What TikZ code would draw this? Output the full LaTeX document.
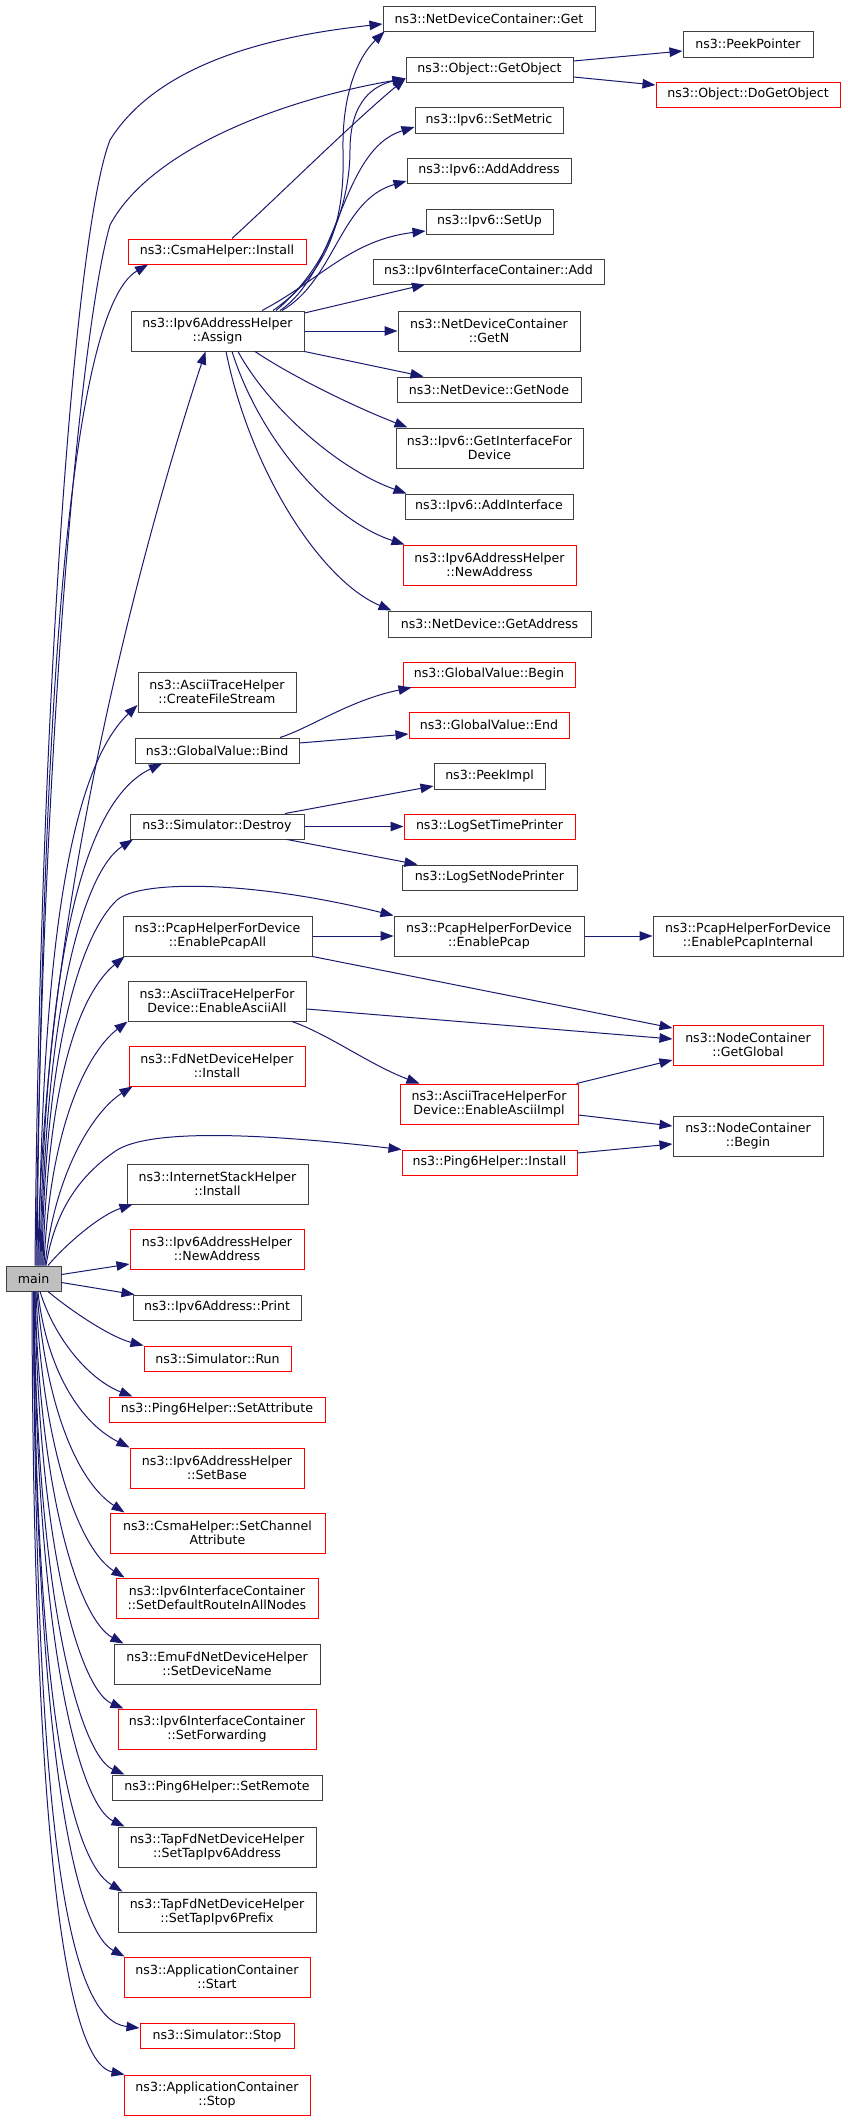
\documentclass[tikz,border=0pt]{standalone}
\usepackage{fontspec}
\setmainfont{DejaVu Sans}
\usetikzlibrary{arrows.meta}
\definecolor{edgec}{HTML}{191970}
\definecolor{boxc}{HTML}{404040}
\definecolor{redc}{HTML}{FF0000}
\definecolor{mainfill}{HTML}{BFBFBF}
\tikzset{
  fn/.style={draw=boxc, line width=1pt, rectangle, inner sep=0pt, align=center, fill=white,
    font=\fontsize{12.6}{14}\selectfont},
  rfn/.style={fn, draw=redc},
  mfn/.style={fn, fill=mainfill},
  call/.style={draw=edgec, line width=1pt, -{Triangle[length=13pt,width=9.5pt]}},
}
\begin{document}
\begin{tikzpicture}[x=1pt,y=-1pt]
\useasboundingbox (0,0) rectangle (848,2120);
% ---------- nodes ----------
\node[fn, minimum width=212pt, minimum height=25pt] (getN) at (489,18.5) {ns3::NetDeviceContainer::Get};
\node[fn, minimum width=167pt, minimum height=25pt] (getObj) at (489.5,69.5) {ns3::Object::GetObject};
\node[fn, minimum width=130pt, minimum height=26pt] (peekPtr) at (748,44) {ns3::PeekPointer};
\node[rfn, minimum width=184pt, minimum height=25pt] (doGet) at (748,94.5) {ns3::Object::DoGetObject};
\node[fn, minimum width=148pt, minimum height=26pt] (setMetric) at (489,120) {ns3::Ipv6::SetMetric};
\node[fn, minimum width=164pt, minimum height=25pt] (addAddr) at (489,170.5) {ns3::Ipv6::AddAddress};
\node[fn, minimum width=127pt, minimum height=25pt] (setUp) at (489.5,221.5) {ns3::Ipv6::SetUp};
\node[fn, minimum width=231pt, minimum height=25pt] (ifcAdd) at (488.5,271.5) {ns3::Ipv6InterfaceContainer::Add};
\node[fn, minimum width=182pt, minimum height=40pt] (getNN) at (489,331) {ns3::NetDeviceContainer\\::GetN};
\node[fn, minimum width=173pt, minimum height=40pt] (assign) at (217.5,331) {ns3::Ipv6AddressHelper\\::Assign};
\node[rfn, minimum width=178pt, minimum height=25pt] (csmaInst) at (217,251.5) {ns3::CsmaHelper::Install};
\node[fn, minimum width=184pt, minimum height=25pt] (getNode) at (489,389.5) {ns3::NetDevice::GetNode};
\node[fn, minimum width=187pt, minimum height=40pt] (getIfc) at (489.5,448) {ns3::Ipv6::GetInterfaceFor\\Device};
\node[fn, minimum width=168pt, minimum height=25pt] (addIfc) at (489,506.5) {ns3::Ipv6::AddInterface};
\node[rfn, minimum width=173pt, minimum height=40pt] (newAddrR) at (489.5,565) {ns3::Ipv6AddressHelper\\::NewAddress};
\node[fn, minimum width=203pt, minimum height=26pt] (getAddr) at (489.5,624) {ns3::NetDevice::GetAddress};
\node[rfn, minimum width=172pt, minimum height=25pt] (gvBegin) at (489,674.5) {ns3::GlobalValue::Begin};
\node[rfn, minimum width=160pt, minimum height=26pt] (gvEnd) at (489,725) {ns3::GlobalValue::End};
\node[fn, minimum width=158pt, minimum height=40pt] (cfs) at (217,692) {ns3::AsciiTraceHelper\\::CreateFileStream};
\node[fn, minimum width=164pt, minimum height=25pt] (bind) at (217,750.5) {ns3::GlobalValue::Bind};
\node[fn, minimum width=174pt, minimum height=25pt] (destroy) at (217,826.5) {ns3::Simulator::Destroy};
\node[fn, minimum width=111pt, minimum height=26pt] (peekImpl) at (489.5,776) {ns3::PeekImpl};
\node[rfn, minimum width=171pt, minimum height=25pt] (timePr) at (489.5,826.5) {ns3::LogSetTimePrinter};
\node[fn, minimum width=175pt, minimum height=25pt] (nodePr) at (489.5,877.5) {ns3::LogSetNodePrinter};
\node[fn, minimum width=189pt, minimum height=40pt] (pcapAll) at (217.5,936) {ns3::PcapHelperForDevice\\::EnablePcapAll};
\node[fn, minimum width=190pt, minimum height=40pt] (pcap) at (489,936) {ns3::PcapHelperForDevice\\::EnablePcap};
\node[fn, minimum width=190pt, minimum height=40pt] (pcapInt) at (748,936) {ns3::PcapHelperForDevice\\::EnablePcapInternal};
\node[fn, minimum width=178pt, minimum height=40pt] (asciiAll) at (217,1001) {ns3::AsciiTraceHelperFor\\Device::EnableAsciiAll};
\node[rfn, minimum width=150pt, minimum height=40pt] (getGlobal) at (748,1045) {ns3::NodeContainer\\::GetGlobal};
\node[rfn, minimum width=176pt, minimum height=40pt] (fdInst) at (217,1066) {ns3::FdNetDeviceHelper\\::Install};
\node[rfn, minimum width=178pt, minimum height=40pt] (asciiImpl) at (489,1104) {ns3::AsciiTraceHelperFor\\Device::EnableAsciiImpl};
\node[rfn, minimum width=175pt, minimum height=25pt] (pingInst) at (489.5,1162.5) {ns3::Ping6Helper::Install};
\node[fn, minimum width=150pt, minimum height=40pt] (ncBegin) at (748,1136) {ns3::NodeContainer\\::Begin};
\node[fn, minimum width=181pt, minimum height=40pt] (inet) at (217.5,1184) {ns3::InternetStackHelper\\::Install};
\node[rfn, minimum width=174pt, minimum height=40pt] (newAddrL) at (217,1249) {ns3::Ipv6AddressHelper\\::NewAddress};
\node[mfn, minimum width=55pt, minimum height=25pt] (main) at (33.5,1278.5) {main};
\node[fn, minimum width=168pt, minimum height=25pt] (print) at (217,1307.5) {ns3::Ipv6Address::Print};
\node[rfn, minimum width=147pt, minimum height=25pt] (run) at (217.5,1358.5) {ns3::Simulator::Run};
\node[rfn, minimum width=216pt, minimum height=25pt] (setAttr) at (217,1409.5) {ns3::Ping6Helper::SetAttribute};
\node[rfn, minimum width=174pt, minimum height=40pt] (setBase) at (217,1468) {ns3::Ipv6AddressHelper\\::SetBase};
\node[rfn, minimum width=215pt, minimum height=40pt] (chanAttr) at (217.5,1533) {ns3::CsmaHelper::SetChannel\\Attribute};
\node[rfn, minimum width=202pt, minimum height=40pt] (defRoute) at (217,1598) {ns3::Ipv6InterfaceContainer\\::SetDefaultRouteInAllNodes};
\node[fn, minimum width=206pt, minimum height=40pt] (devName) at (217,1664) {ns3::EmuFdNetDeviceHelper\\::SetDeviceName};
\node[rfn, minimum width=198pt, minimum height=40pt] (fwd) at (217,1729) {ns3::Ipv6InterfaceContainer\\::SetForwarding};
\node[fn, minimum width=210pt, minimum height=25pt] (remote) at (217,1787.5) {ns3::Ping6Helper::SetRemote};
\node[fn, minimum width=198pt, minimum height=40pt] (tapAddr) at (217,1847) {ns3::TapFdNetDeviceHelper\\::SetTapIpv6Address};
\node[fn, minimum width=198pt, minimum height=40pt] (tapPrefix) at (217,1912) {ns3::TapFdNetDeviceHelper\\::SetTapIpv6Prefix};
\node[rfn, minimum width=186pt, minimum height=40pt] (appStart) at (217,1977) {ns3::ApplicationContainer\\::Start};
\node[rfn, minimum width=154pt, minimum height=25pt] (simStop) at (217,2035.5) {ns3::Simulator::Stop};
\node[rfn, minimum width=186pt, minimum height=40pt] (appStop) at (217,2095) {ns3::ApplicationContainer\\::Stop};
% ---------- edges from main ----------
\draw[call] ([xshift=1.5pt]main.north) .. controls (40,700) and (75,230) .. (110,140) .. controls (160,60) and (280,35) .. ([yshift=-5.5pt]getN.west);
\draw[call] ([xshift=2.5pt]main.north) .. controls (42,750) and (80,330) .. (110,225) .. controls (150,150) and (280,100) .. ([yshift=-9pt]getObj.west);
\draw[call] ([xshift=3.5pt]main.north) .. controls (42,700) and (70,310) .. ([xshift=-69pt]csmaInst.south);
\draw[call] ([xshift=4.5pt]main.north) .. controls (42,900) and (150,520) .. ([xshift=-12pt]assign.south);
\draw[call] ([xshift=5.5pt]main.north) .. controls (42,900) and (80,760) .. ([yshift=-13pt]cfs.west);
\draw[call] ([xshift=6.5pt]main.north) .. controls (45,950) and (85,800) .. ([xshift=-55pt]bind.south);
\draw[call] ([xshift=7.5pt]main.north) .. controls (45,1000) and (85,870) .. ([xshift=-84pt]destroy.south);
\draw[call] ([xshift=8.5pt]main.north) .. controls (45,1050) and (80,935) .. (117,900) .. controls (140,880) and (250,880) .. (pcap.north west);
\draw[call] ([xshift=9.5pt]main.north) .. controls (48,1050) and (90,985) .. ([xshift=2pt]pcapAll.south west);
\draw[call] ([xshift=10.5pt]main.north) .. controls (50,1120) and (90,1050) .. (asciiAll.south west);
\draw[call] ([xshift=11.5pt]main.north) .. controls (55,1170) and (95,1110) .. ([xshift=4pt]fdInst.south west);
\draw[call] ([xshift=12.5pt]main.north) .. controls (55,1210) and (80,1175) .. (117,1150) .. controls (150,1130) and (250,1132) .. (pingInst.north west);
\draw[call] ([xshift=14.5pt]main.north) .. controls (65,1245) and (100,1215) .. ([xshift=6pt]inet.south west);
\draw[call] ([yshift=4pt]main.east) -- ([yshift=-15pt]newAddrL.west);
\draw[call] ([yshift=-4pt]main.east) -- ([xshift=2pt]print.north west);
\draw[call] ([xshift=14.5pt]main.south) .. controls (70,1310) and (110,1337) .. (run.north west);
\draw[call] ([xshift=6.5pt]main.south) .. controls (55,1340) and (90,1380) .. ([xshift=24pt]setAttr.north west);
\draw[call] ([xshift=4.5pt]main.south) .. controls (45,1360) and (75,1420) .. (setBase.north west);
\draw[call] ([xshift=3.5pt]main.south) .. controls (45,1400) and (75,1480) .. ([xshift=15pt]chanAttr.north west);
\draw[call] ([xshift=2.5pt]main.south) .. controls (42,1450) and (80,1550) .. ([xshift=9pt]defRoute.north west);
\draw[call] ([xshift=1.5pt]main.south) .. controls (40,1500) and (80,1620) .. ([xshift=10pt]devName.north west);
\draw[call] ([xshift=1.5pt]main.south) .. controls (38,1550) and (80,1690) .. ([xshift=6pt]fwd.north west);
\draw[call] ([xshift=0.5pt]main.south) .. controls (36,1600) and (80,1755) .. ([xshift=13pt]remote.north west);
\draw[call] ([xshift=0.5pt]main.south) .. controls (36,1650) and (80,1805) .. ([xshift=7pt]tapAddr.north west);
\draw[call] (main.south) .. controls (35,1700) and (70,1860) .. ([xshift=5pt]tapPrefix.north west);
\draw[call] (main.south) .. controls (35,1750) and (75,1930) .. ([xshift=1pt]appStart.north west);
\draw[call] (main.south) .. controls (35,1850) and (70,2020) .. ([yshift=7.5pt]simStop.west);
\draw[call] ([xshift=-1.5pt]main.south) .. controls (33,1950) and (80,2065) .. ([xshift=1pt]appStop.north west);
% ---------- edges from Assign ----------
\draw[call] ([xshift=55.5pt]assign.north) .. controls (330,270) and (345,220) .. (343,150) .. controls (342,90) and (360,55) .. ([xshift=2pt]getN.south west);
\draw[call] ([xshift=58.5pt]assign.north) .. controls (330,265) and (350,200) .. (350,150) .. controls (350,100) and (375,85) .. ([yshift=-9pt]getObj.west);
\draw[call] ([xshift=62.5pt]assign.north) .. controls (340,270) and (340,150) .. ([yshift=-7pt]setMetric.west);
\draw[call] ([xshift=64.5pt]assign.north) .. controls (335,280) and (340,200) .. ([yshift=-10.5pt]addAddr.west);
\draw[call] ([xshift=44.5pt]assign.north) .. controls (320,280) and (350,240) .. ([yshift=-9.5pt]setUp.west);
\draw[call] ([yshift=18pt]assign.east) -- ([xshift=-63.5pt]ifcAdd.south);
\draw[call] (assign.east) -- (getNN.west);
\draw[call] (assign.south east) -- ([xshift=27pt]getNode.north west);
\draw[call] ([xshift=37.5pt]assign.south) .. controls (290,375) and (350,405) .. ([xshift=12pt]getIfc.north west);
\draw[call] ([xshift=20.5pt]assign.south) .. controls (270,410) and (340,470) .. ([xshift=2pt]addIfc.north west);
\draw[call] ([xshift=14.5pt]assign.south) .. controls (260,440) and (330,520) .. ([xshift=2pt]newAddrR.north west);
\draw[call] ([xshift=8.5pt]assign.south) .. controls (250,470) and (320,580) .. ([xshift=4pt]getAddr.north west);
% ---------- other edges ----------
\draw[call] ([xshift=15pt]csmaInst.north) .. controls (290,185) and (350,125) .. ([yshift=-9pt]getObj.west);
\draw[call] ([yshift=8.5pt]getObj.east) -- ([yshift=-7pt]peekPtr.west);
\draw[call] ([yshift=-7.5pt]getObj.east) -- ([yshift=9.5pt]doGet.west);
\draw[call] ([xshift=63pt]bind.north) .. controls (310,728) and (350,700) .. ([xshift=9pt]gvBegin.south west);
\draw[call] ([yshift=7.5pt]bind.east) -- ([yshift=-9pt]gvEnd.west);
\draw[call] ([xshift=68pt]destroy.north) -- ([yshift=-10pt]peekImpl.west);
\draw[call] (destroy.east) -- (timePr.west);
\draw[call] ([xshift=70pt]destroy.south) -- ([xshift=16pt]nodePr.north west);
\draw[call] (pcapAll.east) -- (pcap.west);
\draw[call] (pcapAll.south east) -- ([yshift=17pt]getGlobal.west);
\draw[call] (pcap.east) -- (pcapInt.west);
\draw[call] ([yshift=-8pt]asciiAll.east) -- ([yshift=6pt]getGlobal.west);
\draw[call] ([xshift=75pt]asciiAll.south) .. controls (330,1035) and (370,1065) .. ([xshift=20pt]asciiImpl.north west);
\draw[call] ([xshift=-2pt]asciiImpl.north east) -- ([yshift=-15pt]getGlobal.west);
\draw[call] ([yshift=-11pt]asciiImpl.east) -- ([yshift=10pt]ncBegin.west);
\draw[call] ([yshift=9.5pt]pingInst.east) -- ([yshift=-8pt]ncBegin.west);
\end{tikzpicture}
\end{document}
